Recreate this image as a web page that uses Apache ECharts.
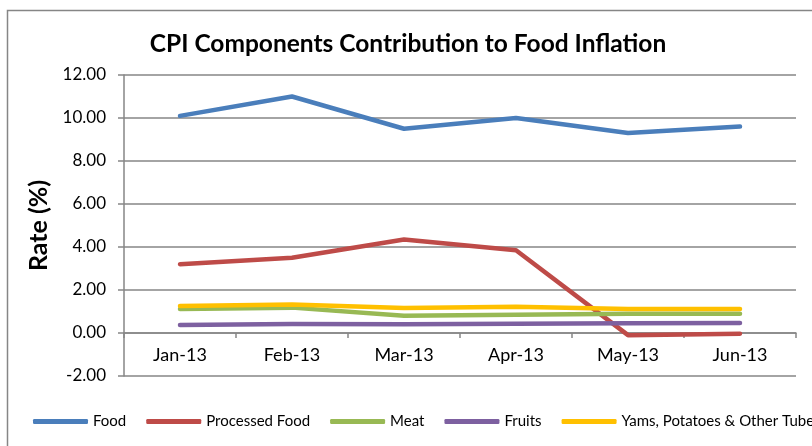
<!DOCTYPE html>
<html><head><meta charset="utf-8">
<script src="https://cdn.jsdelivr.net/npm/echarts@6/dist/echarts.min.js"></script>
<style>html,body{margin:0;padding:0;background:#fff}#c{width:812px;height:446px}</style>
</head><body><div id="c"></div>
<script>
const categories = ['Jan-13','Feb-13','Mar-13','Apr-13','May-13','Jun-13'];
const food = [10.1, 11.0, 9.5, 10.0, 9.3, 9.6];
const processedFood = [3.2, 3.5, 4.35, 3.85, -0.1, -0.03];
const meat = [1.12, 1.18, 0.8, 0.85, 0.9, 0.9];
const fruits = [0.37, 0.42, 0.41, 0.43, 0.45, 0.47];
const yams = [1.26, 1.33, 1.16, 1.22, 1.12, 1.12];
const seriesNames = ['Food','Processed Food','Meat','Fruits','Yams, Potatoes & Other Tubers'];
const yTicks = {min: -2, max: 12, interval: 2};

const FONT = 'Lato, "Liberation Sans", sans-serif';
const colors = ['#4A7EBB','#BE4B48','#98B954','#7D60A0','#FFC000'];
const data = [food, processedFood, meat, fruits, yams];

const chart = echarts.init(document.getElementById('c'));
chart.setOption({
  animation: false,
  color: colors,
  title: {text: 'CPI Components Contribution to Food Inflation', left: 403, textAlign: 'center', top: 27,
    textStyle: {fontFamily: FONT, fontWeight: 'bold', fontSize: 24.5, color: '#000'}},
  graphic: [{type: 'rect', shape: {x: 7.5, y: 10.5, width: 900, height: 500},
    style: {fill: 'none', stroke: '#868686', lineWidth: 1.5}}],
  grid: {left: 124, right: 16, top: 75, bottom: 70},
  legend: {left: 33, top: 414, padding: 0, width: 1500, itemWidth: 55, itemHeight: 5, itemGap: 20, icon: 'roundRect',
    data: seriesNames, textStyle: {fontFamily: FONT, fontSize: 15, color: '#000'}},
  xAxis: {type: 'category', data: categories, boundaryGap: true,
    axisLine: {onZero: true, onZeroAxisIndex: 0, lineStyle: {color: '#868686', width: 1.5}},
    axisTick: {show: true, length: 5, lineStyle: {color: '#868686', width: 1.5}},
    axisLabel: {fontFamily: FONT, fontSize: 18, color: '#000', margin: -30}},
  yAxis: {type: 'value', min: yTicks.min, max: yTicks.max, interval: yTicks.interval,
    name: 'Rate (%)', nameLocation: 'middle', nameGap: 70, nameRotate: 90,
    nameTextStyle: {fontFamily: FONT, fontWeight: 'bold', fontSize: 25, color: '#000'},
    axisLine: {show: true, onZero: false, lineStyle: {color: '#868686', width: 1.5}},
    axisTick: {show: true, length: 6, lineStyle: {color: '#868686', width: 1.5}},
    splitLine: {show: true, lineStyle: {color: '#868686', width: 1.5}},
    axisLabel: {fontFamily: FONT, fontSize: 17, color: '#000', margin: 18,
      formatter: v => v.toFixed(2)}},
  series: seriesNames.map((n, i) => ({
    name: n, type: 'line', data: data[i], symbol: 'none', showSymbol: false,
    lineStyle: {width: 4.5, color: colors[i], cap: 'round', join: 'round'}
  }))
});
</script></body></html>
